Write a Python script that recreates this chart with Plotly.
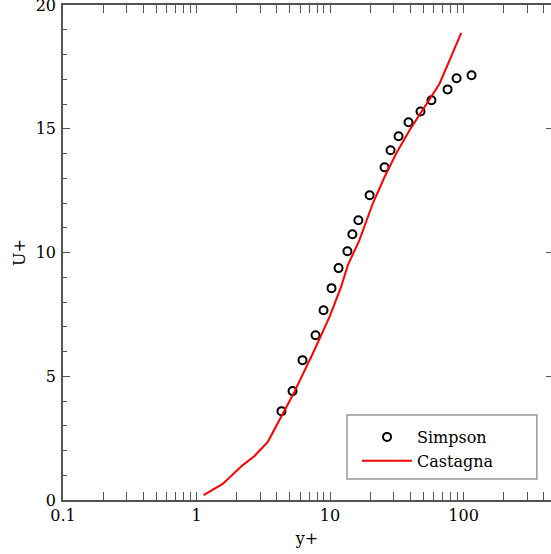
import plotly.graph_objects as go

# Simpson data (open circles)
simpson_y = [4.33, 5.24, 6.22, 7.79, 8.94, 10.26, 11.58, 13.5, 14.7, 16.3,
             19.8, 25.6, 28.4, 32.6, 38.7, 47.6, 57.5, 75.9, 88.7, 114.8]
simpson_u = [3.59, 4.40, 5.65, 6.66, 7.67, 8.56, 9.37, 10.05, 10.74, 11.30,
             12.31, 13.44, 14.13, 14.70, 15.26, 15.70, 16.15, 16.59, 17.04, 17.16]

# Castagna data (red line)
castagna_y = [1.13, 1.57, 2.22, 2.72, 3.42, 4.19, 5.26, 7.43, 9.91, 12.1,
              13.6, 16.6, 20.9, 25.6, 31.3, 39.4, 52.6, 66.1, 78.5, 96.1]
castagna_u = [0.20, 0.65, 1.41, 1.78, 2.35, 3.23, 4.24, 5.92, 7.40, 8.61,
              9.49, 10.50, 11.98, 13.05, 14.00, 14.94, 16.02, 16.82, 17.76, 18.87]

x_tickvals = [0.1, 1, 10, 100]
x_ticktext = ["0.1", "1", "10", "100"]
x_minor = [k * 10.0 ** n for n in range(-1, 3) for k in range(2, 10)]
y_tickvals = [0, 5, 10, 15, 20]

FONT = "DejaVu Serif"
AX = "#555555"

fig = go.Figure()
fig.add_trace(go.Scatter(
    x=simpson_y, y=simpson_u, mode="markers", name="Simpson",
    marker=dict(symbol="circle-open", size=8, color="black", line=dict(width=2, color="black")),
))
fig.add_trace(go.Scatter(
    x=castagna_y, y=castagna_u, mode="lines", name="Castagna",
    line=dict(color="#ff0000", width=2),
))
fig.add_trace(go.Scatter(x=[], y=[], yaxis="y2", showlegend=False, hoverinfo="skip"))

fig.update_layout(
    width=551, height=554,
    margin=dict(l=63, r=0, t=5, b=54, autoexpand=False),
    paper_bgcolor="white", plot_bgcolor="white",
    font=dict(family=FONT, size=16, color="black"),
    xaxis=dict(
        type="log", range=[-1, 2.655], automargin=False,
        tickvals=x_tickvals, ticktext=x_ticktext,
        ticks="inside", ticklen=8, tickwidth=1.2, tickcolor=AX,
        minor=dict(tickvals=x_minor, ticks="inside", ticklen=4, tickwidth=1, tickcolor=AX, showgrid=False),
        showline=True, linecolor=AX, linewidth=1.5, mirror="allticks",
        showgrid=False, zeroline=False,
        title=dict(text="y+", standoff=9, font=dict(size=16)),
        tickfont=dict(size=16), ticklabeloverflow="allow",
    ),
    yaxis=dict(
        range=[0, 20.0001], tickvals=y_tickvals, automargin=False,
        ticks="inside", ticklen=7, tickwidth=1.2, tickcolor=AX,
        minor=dict(dtick=1, ticks="inside", ticklen=4, tickwidth=1, tickcolor=AX, showgrid=False),
        showline=True, linecolor=AX, linewidth=1.5, mirror=False,
        showgrid=False, zeroline=False,
        title=dict(text="U+", standoff=6, font=dict(size=16)),
        tickfont=dict(size=16), ticklabeloverflow="allow",
        ticklabelstandoff=2,
    ),
    yaxis2=dict(
        overlaying="y", side="right", range=[0, 20.0001], tickvals=y_tickvals, automargin=False,
        ticks="inside", ticklen=5, tickwidth=1.2, tickcolor=AX,
        showticklabels=False, showline=False, showgrid=False, zeroline=False,
    ),
    legend=dict(
        x=0.582, y=0.1616, xanchor="left", yanchor="top",
        bgcolor="rgba(0,0,0,0)", borderwidth=0,
        font=dict(family=FONT, size=16, color="black"),
        indentation=10, itemwidth=50, tracegroupgap=0,
    ),
    shapes=[dict(
        type="rect", xref="paper", yref="paper",
        x0=0.582, x1=0.971, y0=0.0424, y1=0.1717,
        line=dict(color="#999999", width=1.5), fillcolor="white", layer="below",
    )],
    showlegend=True,
)

fig.write_html(
    "out.html",
    config={"displayModeBar": False},
    post_script="document.body.style.margin='0';document.body.style.overflow='hidden';",
)
